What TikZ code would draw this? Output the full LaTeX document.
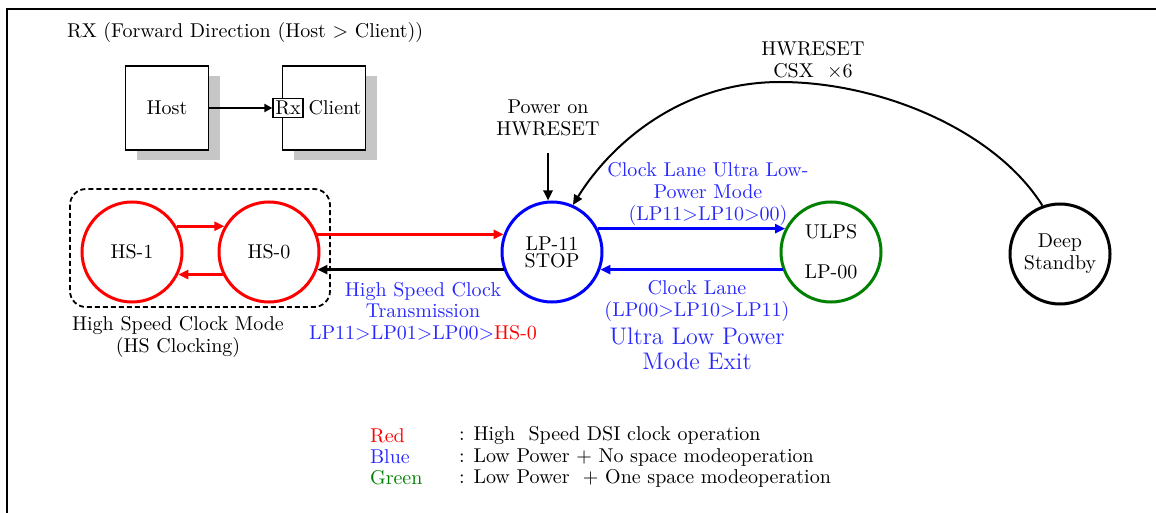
\documentclass[tikz,border=0pt]{standalone}
\usepackage{tikz}
\usetikzlibrary{arrows.meta,positioning,fit,calc}
\usepackage{xcolor}
\definecolor{hsred}{RGB}{255,0,0}
\definecolor{lpblue}{RGB}{0,0,255}
\definecolor{txtblue}{RGB}{40,40,255}
\definecolor{ulpsgreen}{RGB}{0,128,0}

\begin{document}
\begin{tikzpicture}[
  x=0.5pt, y=-0.5pt,
  state/.style={circle, draw, line width=1.5pt, minimum size=50pt, inner sep=0pt, align=center},
  unit/.style={draw, line width=0.8pt, fill=white, minimum width=41.5pt, minimum height=42pt},
  shade/.style={fill=gray!45, minimum width=41.5pt, minimum height=42pt},
  edge/.style={-{Triangle[length=5pt,width=4.5pt]}, line width=1.5pt},
  tight/.style={align=center, font=\fontsize{10}{10.8}\selectfont},
  every node/.style={font=\normalsize}
]
\useasboundingbox (0,0) rectangle (1156,513);
\draw[line width=1.3pt] (1156,9) -- (7,9) -- (7,513);

% host / client sketch
\node[anchor=west] (title) at (60,33) {RX (Forward Direction (Host > Client))};
\node[shade] at (178,118) {};
\node[shade] at (335,118) {};
\node[unit] (host) at (167,108) {Host};
\node[unit] (client) at (324,108) {};
\node[draw, fill=white, line width=0.6pt, inner sep=1.2pt, minimum width=15pt] (rxport) at (288,108) {Rx};
\node[right=-1pt of rxport] (clienttxt) {Client};
\draw[-{Triangle[length=4pt,width=4pt]}, line width=1.2pt] (host) -- (rxport);

% states
\node[state, draw=hsred] (hsone) at (132,252) {HS-1};
\node[state, draw=hsred] (hszero) at (269,252) {HS-0};
\node[state, draw=lpblue, font=\fontsize{10}{8.5}\selectfont] (lpstop) at (552,252) {LP-11\\STOP};
\node[state, draw=ulpsgreen] (ulps) at (831,252) {ULPS\\[8pt]LP-00};
\node[state, draw=black, tight] (deep) at (1060,254) {Deep\\Standby};
\draw[dashed, dash pattern=on 2.5pt off 1.5pt, line width=0.9pt, rounded corners=8pt]
  (70,189) rectangle (330,307);

% connectors
\draw[edge, hsred] (hsone.30) -- (hszero.150);
\draw[edge, hsred] (hszero.-154) -- (hsone.-26);
\draw[edge, hsred] (hszero.20) -- (lpstop.160);
\draw[edge, black] (lpstop.-160) -- (hszero.-20);
\draw[edge, lpblue] (lpstop.27) -- (ulps.153);
\draw[edge, lpblue] (ulps.-160) -- (lpstop.-20);

\node[tight] (pwr) at (548,118) {Power on\\HWRESET};
\draw[edge, line width=1.2pt, shorten <=5pt] (pwr) -- (pwr |- lpstop.north);
\coordinate (top) at (780,82);
\draw[edge, line width=1pt] (deep.110) .. controls (995,130) and (880,82) .. (top)
  .. controls (680,82) and (610,145) .. (lpstop.66);
\node[tight] (rst) at (813,60) {HWRESET\\CSX \ $\times$6};

% labels
\node[tight] (hslbl) at (178,337) {High Speed Clock Mode\\(HS Clocking)};
\node[tight, text=txtblue] (hstx) at (423,311) {High Speed Clock\\Transmission\\LP11>LP01>LP00>\textcolor{hsred}{HS-0}};
\node[tight, text=txtblue] (ulpsin) at (708,194) {Clock Lane Ultra Low-\\Power Mode\\(LP11>LP10>00)};
\node[tight, text=txtblue] (ulpsout) at (697,301) {Clock Lane\\(LP00>LP10>LP11)};
\node[align=center, text=txtblue, font=\fontsize{12}{12.5}\selectfont] (ulpsexit) at (697,349) {Ultra Low Power\\Mode Exit};

% legend
\node[anchor=west, text=hsred] (kred) at (363,436) {Red};
\node[anchor=west, text=txtblue] (kblue) at (363,457) {Blue};
\node[anchor=west, text=ulpsgreen] (kgreen) at (363,478) {Green};
\node[anchor=west] (dred) at (452,436) {: High \ Speed DSI clock operation};
\node[anchor=west] (dblue) at (452,457) {: Low Power + No space modeoperation};
\node[anchor=west] (dgreen) at (452,478) {: Low Power \ + One space modeoperation};
\end{tikzpicture}
\end{document}
